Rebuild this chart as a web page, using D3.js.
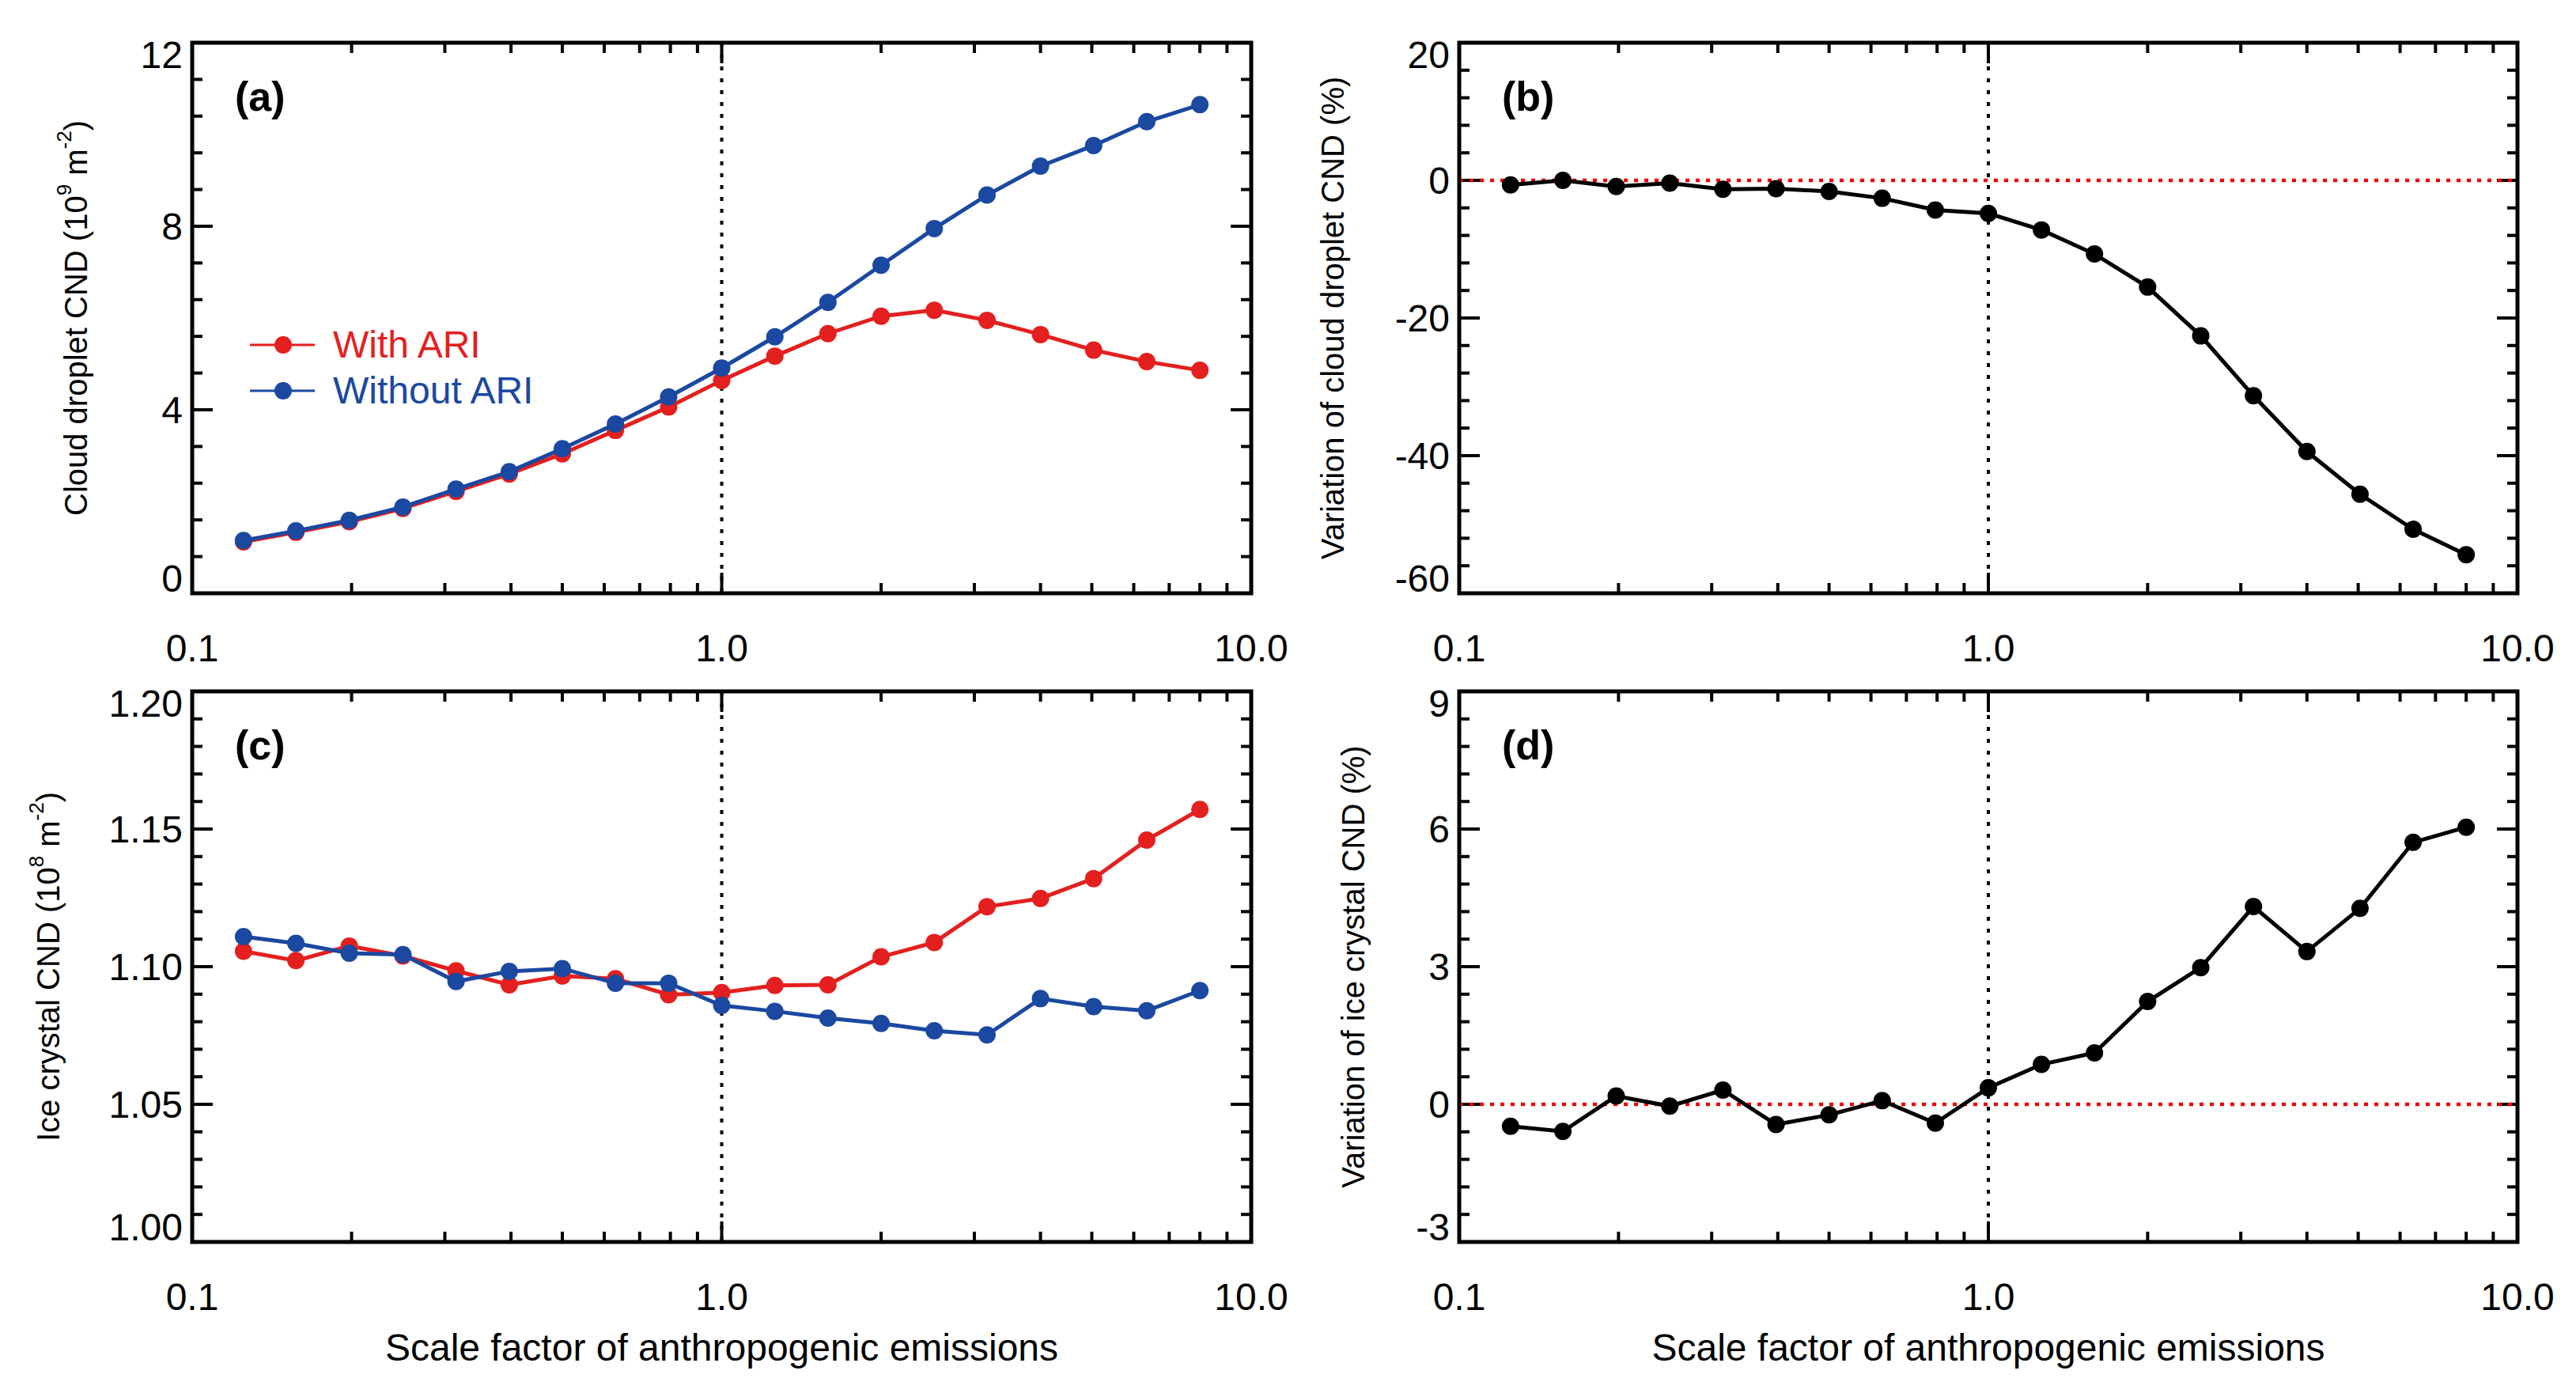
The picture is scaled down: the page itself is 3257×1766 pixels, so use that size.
<!DOCTYPE html>
<html><head><meta charset="utf-8">
<script src="https://cdn.jsdelivr.net/npm/d3@7"></script>
<style>body{margin:0;background:#fff}</style></head>
<body><svg id="c" width="3257" height="1766"></svg>
<script>
const scaleFactors=[0.125,0.157,0.198,0.25,0.315,0.397,0.5,0.63,0.794,1.0,1.26,1.587,2.0,2.52,3.17,4.0,5.04,6.35,8.0];
const dropWithARI=[1.12,1.33,1.56,1.85,2.22,2.6,3.04,3.55,4.06,4.64,5.17,5.66,6.04,6.17,5.95,5.64,5.30,5.05,4.86];
const dropWithoutARI=[1.15,1.36,1.59,1.88,2.27,2.65,3.15,3.69,4.28,4.91,5.59,6.34,7.15,7.95,8.68,9.31,9.76,10.28,10.65];
const dropVariation=[-0.65,0.0,-0.9,-0.4,-1.3,-1.2,-1.6,-2.6,-4.3,-4.8,-7.2,-10.7,-15.5,-22.6,-31.3,-39.4,-45.6,-50.7,-54.4];
const iceWithARI=[1.1056,1.1022,1.1075,1.1039,1.0985,1.0934,1.0966,1.0956,1.0898,1.0906,1.0932,1.0934,1.1036,1.1088,1.1218,1.1248,1.1320,1.1460,1.1571];
const iceWithoutARI=[1.1109,1.1085,1.1049,1.1044,1.0946,1.0983,1.0993,1.0940,1.0940,1.0859,1.0838,1.0813,1.0794,1.0767,1.0752,1.0884,1.0855,1.0840,1.0913];
const iceVariation=[-0.48,-0.59,0.18,-0.04,0.31,-0.44,-0.23,0.08,-0.41,0.36,0.87,1.12,2.24,2.98,4.31,3.33,4.27,5.71,6.04];
const xTickLabels=["0.1","1.0","10.0"];
const legendLabels=["With ARI","Without ARI"];
const RED="#e3201f",BLUE="#1b48a0";
const svg=d3.select("#c");
const NARROW="'Liberation Sans Narrow','Arial Narrow',sans-serif";
const SANS="'Liberation Sans',Arial,sans-serif";

const panels=[
 {label:"(a)",x0:243,x1:1582,y0:54,y1:750,dom:[0,12],major:[0,4,8,12],minorStep:0.8,fmt:d=>d,
  series:[{v:dropWithARI,c:RED},{v:dropWithoutARI,c:BLUE}],title:["Cloud droplet CND (10","9"," m","-2",")"],tx:99,legend:true},
 {label:"(b)",x0:1845,x1:3183,y0:54,y1:750,dom:[-60,20],major:[-60,-40,-20,0,20],minorStep:4,fmt:d=>d,
  series:[{v:dropVariation,c:"#000"}],title:["Variation of cloud droplet CND (%)"],tx:1688,zero:true},
 {label:"(c)",x0:243,x1:1582,y0:874,y1:1570,dom:[1.0,1.2],major:[1.0,1.05,1.1,1.15,1.2],minorStep:0.01,fmt:d3.format(".2f"),
  series:[{v:iceWithARI,c:RED},{v:iceWithoutARI,c:BLUE}],title:["Ice crystal CND (10","8"," m","-2",")"],tx:64,xt:true},
 {label:"(d)",x0:1845,x1:3183,y0:874,y1:1570,dom:[-3,9],major:[-3,0,3,6,9],minorStep:0.6,fmt:d=>d,
  series:[{v:iceVariation,c:"#000"}],title:["Variation of ice crystal CND (%)"],tx:1714,zero:true,xt:true}
];

panels.forEach(p=>{
  const x=d3.scaleLog().domain([0.1,10]).range([p.x0,p.x1]);
  const y=d3.scaleLinear().domain(p.dom).range([p.y1,p.y0]);
  const g=svg.append("g");
  // x ticks
  const xmaj=[0.1,1,10], xmin=[];
  [0.1,1].forEach(b=>{for(let k=2;k<=9;k++)xmin.push(b*k);});
  const tk=(xs,len)=>xs.forEach(v=>{
    g.append("line").attr("x1",x(v)).attr("x2",x(v)).attr("y1",p.y1).attr("y2",p.y1-len).attr("stroke","#000").attr("stroke-width",4);
    g.append("line").attr("x1",x(v)).attr("x2",x(v)).attr("y1",p.y0).attr("y2",p.y0+len).attr("stroke","#000").attr("stroke-width",4);
  });
  tk(xmaj,26);tk(xmin,13);
  xmaj.forEach((v,i)=>g.append("text").attr("x",x(v)).attr("y",p.y1+86).attr("text-anchor","middle")
    .attr("font-family",NARROW).attr("font-size",48).text(xTickLabels[i]));
  // y ticks
  const ymin=d3.range(p.dom[0],p.dom[1]+1e-9,p.minorStep);
  const ytk=(vs,len)=>vs.forEach(v=>{
    g.append("line").attr("x1",p.x0).attr("x2",p.x0+len).attr("y1",y(v)).attr("y2",y(v)).attr("stroke","#000").attr("stroke-width",4);
    g.append("line").attr("x1",p.x1).attr("x2",p.x1-len).attr("y1",y(v)).attr("y2",y(v)).attr("stroke","#000").attr("stroke-width",4);
  });
  ytk(ymin,13);ytk(p.major,26);
  p.major.forEach(v=>{
    let yy=y(v)+17;
    if(v===p.dom[1]) yy=Math.max(yy,p.y0+32);
    if(v===p.dom[0]) yy=Math.min(yy,p.y1-2);
    g.append("text").attr("x",p.x0-12).attr("y",yy).attr("text-anchor","end")
    .attr("font-family",NARROW).attr("font-size",48).text(p.fmt(v));
  });
  // reference lines
  g.append("line").attr("x1",x(1)).attr("x2",x(1)).attr("y1",p.y0).attr("y2",p.y1)
    .attr("stroke","#000").attr("stroke-width",4).attr("stroke-dasharray","5,10");
  if(p.zero) g.append("line").attr("x1",p.x0).attr("x2",p.x1).attr("y1",y(0)).attr("y2",y(0))
    .attr("stroke","#e00").attr("stroke-width",4.5).attr("stroke-dasharray","5,8");
  // series
  p.series.forEach(s=>{
    const line=d3.line().x((d,i)=>x(scaleFactors[i])).y(d=>y(d));
    g.append("path").attr("d",line(s.v)).attr("fill","none").attr("stroke",s.c).attr("stroke-width",5);
    s.v.forEach((d,i)=>g.append("circle").attr("cx",x(scaleFactors[i])).attr("cy",y(d)).attr("r",11).attr("fill",s.c));
  });
  // frame
  g.append("rect").attr("x",p.x0).attr("y",p.y0).attr("width",p.x1-p.x0).attr("height",p.y1-p.y0)
    .attr("fill","none").attr("stroke","#000").attr("stroke-width",5);
  // panel label
  g.append("text").attr("x",p.x0+54).attr("y",p.y0+86).attr("font-family",NARROW).attr("font-weight","bold")
    .attr("font-size",52).text(p.label);
  // y title
  const cy=(p.y0+p.y1)/2;
  const t=g.append("text").attr("transform",`translate(${p.tx},${cy}) rotate(-90)`).attr("text-anchor","middle")
    .attr("dominant-baseline","middle").attr("font-family",SANS).attr("font-size",40);
  if(p.title.length===1) t.text(p.title[0]);
  else{
    t.append("tspan").text(p.title[0]);
    t.append("tspan").attr("dy",-16).attr("font-size",26).text(p.title[1]);
    t.append("tspan").attr("dy",16).text(p.title[2]);
    t.append("tspan").attr("dy",-16).attr("font-size",26).text(p.title[3]);
    t.append("tspan").attr("dy",16).text(p.title[4]);
  }
  if(p.xt) g.append("text").attr("x",(p.x0+p.x1)/2).attr("y",p.y1+150).attr("text-anchor","middle")
    .attr("font-family",NARROW).attr("font-size",48).text("Scale factor of anthropogenic emissions");
  if(p.legend){
    [RED,BLUE].forEach((c,i)=>{
      const ly=436+i*58;
      g.append("line").attr("x1",316).attr("x2",398).attr("y1",ly).attr("y2",ly).attr("stroke",c).attr("stroke-width",3);
      g.append("circle").attr("cx",358).attr("cy",ly).attr("r",11).attr("fill",c);
      g.append("text").attr("x",421).attr("y",ly+16).attr("font-family",NARROW).attr("font-size",48).attr("fill",c).text(legendLabels[i]);
    });
  }
});
</script></body></html>
